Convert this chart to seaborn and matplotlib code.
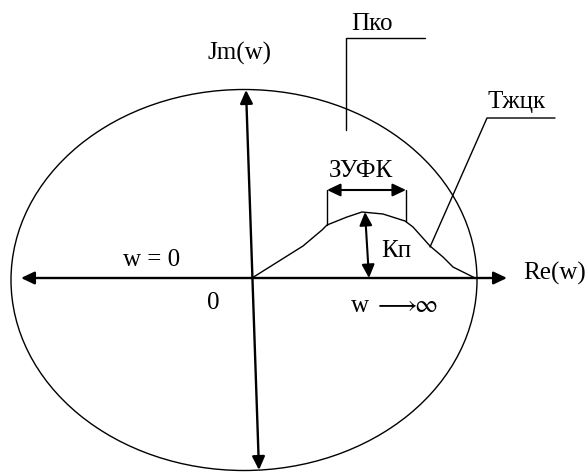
import matplotlib
matplotlib.use("Agg")
import matplotlib.pyplot as plt
from matplotlib.patches import Ellipse
import seaborn as sns
import pandas as pd

sns.set_theme(style="white")
plt.rcParams['font.family'] = ['Liberation Serif', 'DejaVu Serif']
plt.rcParams['mathtext.fontset'] = 'stix'

# --- data (diagram coordinates, pixel-like units, y downwards) ---
curve_x = [252, 303, 322, 327, 347, 362, 383, 405, 413, 430, 443, 453, 475]
curve_y = [278, 246, 230, 225, 217, 212, 214, 221, 227, 246, 257, 267, 278]

ellipse_center = (244, 280)
ellipse_size = (466, 381)

labels = ["Jm(w)", "Пко", "Тжцк", "ЗУФК", "Кп", "w = 0", "0",
          r"w $\longrightarrow\!\!\infty$", "Re(w)"]
label_x = [240, 372, 517, 361, 396, 152, 213, 394, 555]
label_y = [53, 24, 102, 171, 251, 260, 303, 306, 273]

fig = plt.figure(figsize=(5.88, 4.72), dpi=100)
ax = fig.add_axes([0, 0, 1, 1])

# ellipse
ax.add_patch(Ellipse(ellipse_center, ellipse_size[0], ellipse_size[1],
                     fill=False, ec='black', lw=1.0))

# frequency response curve
df = pd.DataFrame({"x": curve_x, "y": curve_y})
sns.lineplot(data=df, x="x", y="y", sort=False, color="black", lw=1.0, ax=ax)
ax.set_xlim(0, 588)
ax.set_ylim(472, 0)
ax.axis('off')

def arrow(x0, y0, x1, y1, style, lw=1.5):
    ax.annotate("", xy=(x1, y1), xytext=(x0, y0),
                arrowprops=dict(arrowstyle=style + ",head_length=0.8,head_width=0.38",
                                color='black', lw=lw, shrinkA=0, shrinkB=0,
                                mutation_scale=10))

# axes
arrow(21, 278, 507, 278, "<|-|>", lw=1.7)
arrow(259, 470, 246, 90, "<|-|>", lw=1.7)

# ЗУФК bracket
ax.plot([327, 327], [190, 225], color='black', lw=1.0)
ax.plot([406, 406], [190, 221], color='black', lw=1.0)
arrow(327, 190, 406, 190, "<|-|>", lw=1.5)

# Кп arrow
arrow(369, 278, 365, 212, "<|-|>", lw=1.5)

# leaders
ax.plot([346, 346, 425], [130, 38, 38], color='black', lw=1.0)
ax.plot([430, 487, 555], [247, 118, 118], color='black', lw=1.0)

for t, x, y in zip(labels, label_x, label_y):
    ax.text(x, y, t, ha='center', va='center', fontsize=18, color='black')

fig.savefig("out.png", dpi=100)
